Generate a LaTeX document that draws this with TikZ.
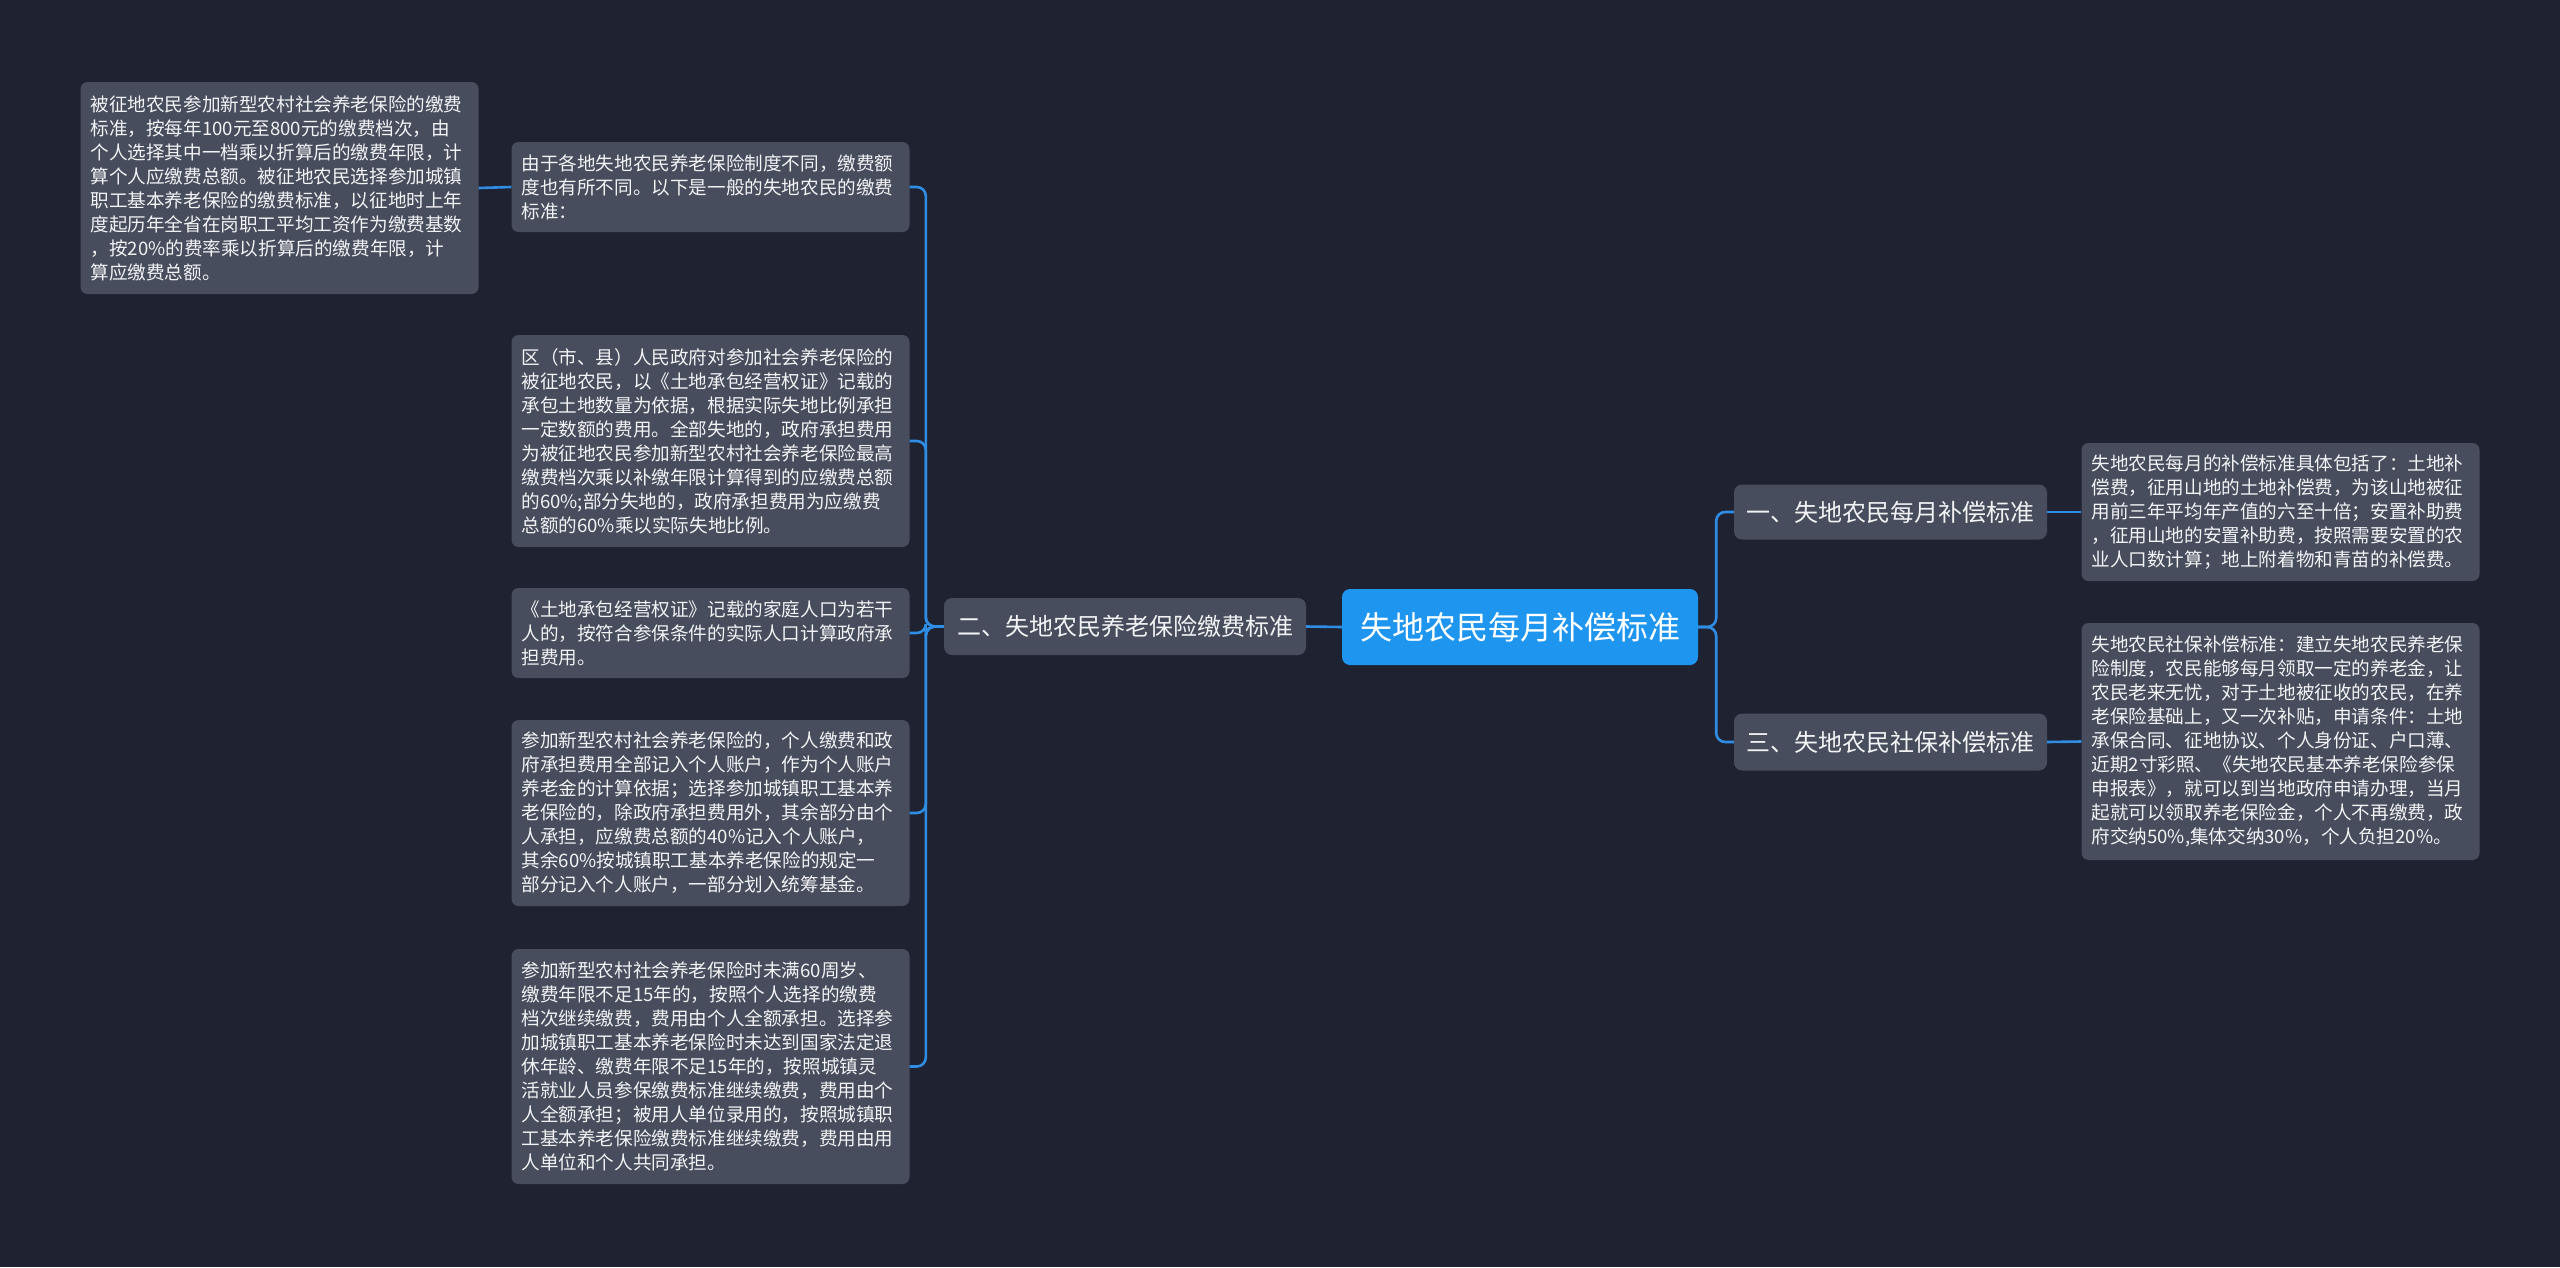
\documentclass[tikz,border=0pt]{standalone}
\usepackage{fontspec}
\newfontfamily\cjk{Noto Sans CJK SC}
\definecolor{bgc}{HTML}{1F2230}
\definecolor{boxc}{HTML}{474D5C}
\definecolor{mainc}{HTML}{1E96F0}
\definecolor{linec}{HTML}{2F8DE4}
\definecolor{txtc}{HTML}{F2F3F5}
\tikzset{
  leaf/.style={fill=boxc, rounded corners=7pt, text=txtc, inner xsep=10pt, inner ysep=0pt,
    text width=378pt, align=left, font=\cjk\fontsize{18.6}{24}\selectfont},
  branch/.style={fill=boxc, rounded corners=8pt, text=txtc, inner sep=0pt, align=center,
    font=\cjk\fontsize{24}{28}\selectfont},
  rootnode/.style={fill=mainc, rounded corners=8pt, text=white, inner sep=0pt, align=center,
    font=\cjk\fontsize{32}{36}\selectfont},
  conn/.style={draw=linec, line width=2.6pt, rounded corners=9pt},
}
\begin{document}
\begin{tikzpicture}[x=1pt,y=-1pt]
\fill[bgc] (0,0) rectangle (2560,1267);
\useasboundingbox (0,0) rectangle (2560,1267);

\node[rootnode, minimum width=356pt, minimum height=76pt] (c) at (1520,627) {失地农民每月补偿标准};
\node[branch, minimum width=362pt, minimum height=57pt] (n2) at (1125,626.5) {二、失地农民养老保险缴费标准};
\node[branch, minimum width=313pt, minimum height=55pt] (n1) at (1890.5,512) {一、失地农民每月补偿标准};
\node[branch, minimum width=313pt, minimum height=57pt] (n3) at (1890.5,742) {三、失地农民社保补偿标准};

\node[leaf, minimum height=212pt] (tl) at (279.5,188) {被征地农民参加新型农村社会养老保险的缴费\\标准，按每年100元至800元的缴费档次，由\\个人选择其中一档乘以折算后的缴费年限，计\\算个人应缴费总额。被征地农民选择参加城镇\\职工基本养老保险的缴费标准，以征地时上年\\度起历年全省在岗职工平均工资作为缴费基数\\，按20\%的费率乘以折算后的缴费年限，计\\算应缴费总额。};

\node[leaf, minimum height=90pt] (b2) at (710.5,187) {由于各地失地农民养老保险制度不同，缴费额\\度也有所不同。以下是一般的失地农民的缴费\\标准：};

\node[leaf, minimum height=212pt] (b3) at (710.5,441) {区（市、县）人民政府对参加社会养老保险的\\被征地农民，以《土地承包经营权证》记载的\\承包土地数量为依据，根据实际失地比例承担\\一定数额的费用。全部失地的，政府承担费用\\为被征地农民参加新型农村社会养老保险最高\\缴费档次乘以补缴年限计算得到的应缴费总额\\的60\%;部分失地的，政府承担费用为应缴费\\总额的60\%乘以实际失地比例。};

\node[leaf, minimum height=90pt] (b4) at (710.5,633) {《土地承包经营权证》记载的家庭人口为若干\\人的，按符合参保条件的实际人口计算政府承\\担费用。};

\node[leaf, minimum height=186pt] (b5) at (710.5,813) {参加新型农村社会养老保险的，个人缴费和政\\府承担费用全部记入个人账户，作为个人账户\\养老金的计算依据；选择参加城镇职工基本养\\老保险的，除政府承担费用外，其余部分由个\\人承担，应缴费总额的40\%记入个人账户，\\其余60\%按城镇职工基本养老保险的规定一\\部分记入个人账户，一部分划入统筹基金。};

\node[leaf, minimum height=235pt] (b6) at (710.5,1066.5) {参加新型农村社会养老保险时未满60周岁、\\缴费年限不足15年的，按照个人选择的缴费\\档次继续缴费，费用由个人全额承担。选择参\\加城镇职工基本养老保险时未达到国家法定退\\休年龄、缴费年限不足15年的，按照城镇灵\\活就业人员参保缴费标准继续缴费，费用由个\\人全额承担；被用人单位录用的，按照城镇职\\工基本养老保险缴费标准继续缴费，费用由用\\人单位和个人共同承担。};

\node[leaf, minimum height=138pt] (r1) at (2280.5,512) {失地农民每月的补偿标准具体包括了：土地补\\偿费，征用山地的土地补偿费，为该山地被征\\用前三年平均年产值的六至十倍；安置补助费\\，征用山地的安置补助费，按照需要安置的农\\业人口数计算；地上附着物和青苗的补偿费。};

\node[leaf, minimum height=237pt] (r2) at (2280.5,741.5) {失地农民社保补偿标准：建立失地农民养老保\\险制度，农民能够每月领取一定的养老金，让\\农民老来无忧，对于土地被征收的农民，在养\\老保险基础上，又一次补贴，申请条件：土地\\承保合同、征地协议、个人身份证、户口薄、\\近期2寸彩照、《失地农民基本养老保险参保\\申报表》，就可以到当地政府申请办理，当月\\起就可以领取养老保险金，个人不再缴费，政\\府交纳50\%,集体交纳30\%，个人负担20\%。};

% connectors
\draw[conn] (c.west) -- (n2.east);
\foreach \b in {b2,b3,b4,b5,b6}{
  \draw[conn] (n2.west) -- ++(-18,0) |- (\b.east);
}
\draw[conn] (b2.west) -- (tl.east);
\foreach \b in {n1,n3}{
  \draw[conn] (c.east) -- ++(18,0) |- (\b.west);
}
\draw[conn] (n1.east) -- (r1.west);
\draw[conn] (n3.east) -- (r2.west);
\end{tikzpicture}
\end{document}
